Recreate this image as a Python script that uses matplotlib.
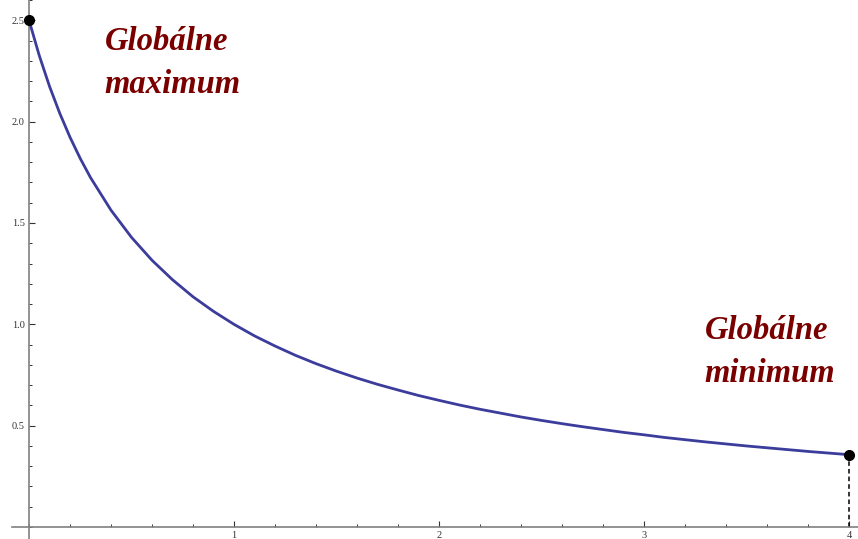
import numpy as np
import matplotlib
matplotlib.use('Agg')
from matplotlib import pyplot as plt
from matplotlib.ticker import MultipleLocator

# Curve values
x = [0.0, 0.05, 0.1, 0.15, 0.2, 0.25, 0.3, 0.4, 0.5, 0.6, 0.7, 0.8, 0.9,
     1.0, 1.1, 1.2, 1.3, 1.4, 1.5, 1.6, 1.7, 1.8, 1.9, 2.0, 2.1, 2.2, 2.3,
     2.4, 2.5, 2.6, 2.7, 2.8, 2.9, 3.0, 3.1, 3.2, 3.3, 3.4, 3.5, 3.6, 3.7,
     3.8, 3.9, 4.0]
y = [2.5, 2.326, 2.174, 2.041, 1.923, 1.818, 1.724, 1.563, 1.429, 1.316,
     1.220, 1.136, 1.064, 1.0, 0.943, 0.893, 0.847, 0.806, 0.769, 0.735,
     0.704, 0.676, 0.649, 0.625, 0.602, 0.581, 0.562, 0.543, 0.526, 0.510,
     0.495, 0.481, 0.467, 0.455, 0.442, 0.431, 0.420, 0.410, 0.400, 0.391,
     0.382, 0.373, 0.365, 0.357]

# Extrema points
ext_x = [0.0, 4.0]
ext_y = [2.5, 0.357]
labels = ['Globálne\nmaximum', 'Globálne\nminimum']

plt.rcParams['font.family'] = ['Liberation Serif', 'DejaVu Serif']

fig = plt.figure(figsize=(8.58, 5.39), dpi=100)
ax = fig.add_axes([12 / 858, 0, 1 - 12 / 858, 1])

ax.plot(x, y, color='#3c3c9c', lw=2, zorder=3)
ax.plot([ext_x[1], ext_x[1]], [0, ext_y[1]], color='black', lw=1.1,
        ls=(0, (3, 2)), zorder=2)
ax.plot(ext_x, ext_y, 'o', color='black', ms=7, zorder=4, clip_on=False)

ax.text(0.37, 2.47, labels[0], color='#7a0000', fontsize=23.5,
        fontweight='bold', fontstyle='italic', va='top', ha='left',
        linespacing=1.5)
ax.text(3.295, 1.045, labels[1], color='#7a0000', fontsize=23.5,
        fontweight='bold', fontstyle='italic', va='top', ha='left',
        linespacing=1.5)

ax.set_xlim(-0.083, 4.044)
ax.set_ylim(-0.059, 2.6)

ax.spines['left'].set_position(('data', 0))
ax.spines['bottom'].set_position(('data', 0))
ax.spines['right'].set_visible(False)
ax.spines['top'].set_visible(False)
for s in ['left', 'bottom']:
    ax.spines[s].set_color('#808080')
    ax.spines[s].set_linewidth(1.2)

ax.xaxis.set_minor_locator(MultipleLocator(0.2))
ax.yaxis.set_minor_locator(MultipleLocator(0.1))
ax.set_xticks([1, 2, 3, 4])
ax.set_xticklabels(['1', '2', '3', '4'])
ax.set_yticks([0.5, 1.0, 1.5, 2.0, 2.5])
ax.set_yticklabels(['0.5', '1.0', '1.5', '2.0', '2.5'])
ax.tick_params(which='both', direction='in', color='#333333', labelsize=7.5,
               labelcolor='#333333')
ax.tick_params(which='major', length=4, width=0.8, pad=3)
ax.tick_params(which='minor', length=2.5, width=0.7)
ax.set_facecolor('none')

fig.savefig('out.png', dpi=100)
